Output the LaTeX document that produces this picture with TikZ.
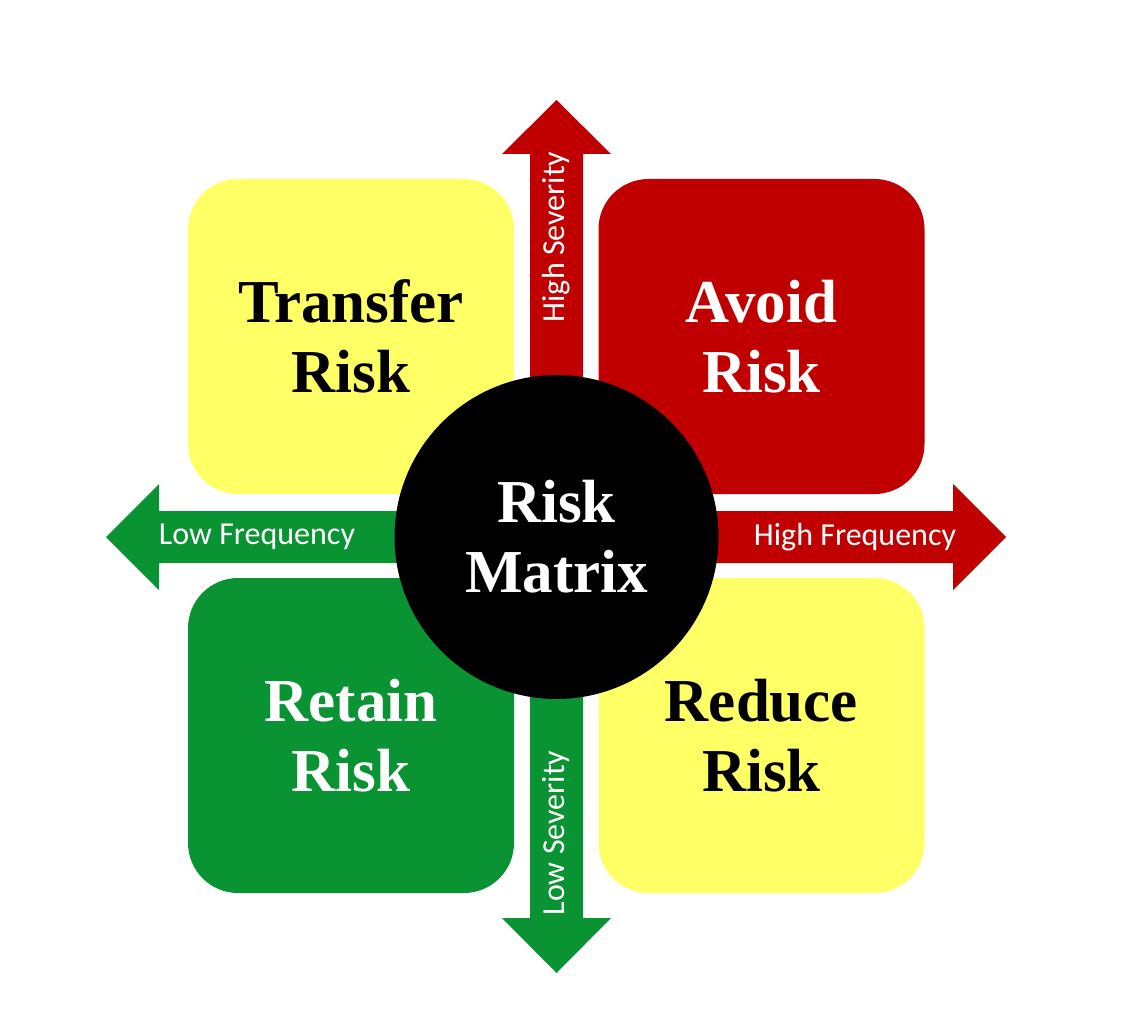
\documentclass[tikz,border=0pt]{standalone}
\usepackage{fontspec}
\setmainfont{Liberation Serif}
\newfontfamily\labfont{Carlito}
\definecolor{rYellow}{HTML}{FFFF66}
\definecolor{rRed}{HTML}{C00000}
\definecolor{rGreen}{HTML}{0A9332}
\begin{document}
\begin{tikzpicture}[x=1pt,y=-1pt,
  quad/.style={rectangle,rounded corners=50pt,minimum width=326pt,minimum height=315pt,inner sep=0pt,align=center,font=\fontsize{61}{70}\selectfont\bfseries},
  arlabel/.style={text=white,font=\labfont\fontsize{32}{34}\selectfont,inner sep=0pt}]
\useasboundingbox (0,0) rectangle (1130,1035);
\coordinate (c) at (556.5,537);
% arrows
\fill[rRed] (530,537) -- (530,154) -- (502,154) -- (556.5,100) -- (611,154) -- (583,154) -- (583,537) -- cycle;
\fill[rGreen] (530,537) -- (530,918) -- (502,918) -- (556.5,973) -- (611,918) -- (583,918) -- (583,537) -- cycle;
\fill[rGreen] (556,511) -- (159,511) -- (159,484) -- (106,537) -- (159,590) -- (159,563) -- (556,563) -- cycle;
\fill[rRed] (556,511) -- (953,511) -- (953,484) -- (1006,537) -- (953,590) -- (953,563) -- (556,563) -- cycle;
\node[arlabel,rotate=90] (hs) at (556.5,237) {High Severity};
\node[arlabel,rotate=90] (ls) at (556.5,833) {Low Severity};
\node[arlabel] (lf) at (257,537) {Low Frequency};
\node[arlabel] (hf) at (855,537) {High Frequency};
% quadrants
\node[quad,fill=rYellow,text=black] (transfer) at (351,336.5) {Transfer\\Risk};
\node[quad,fill=rRed,text=white] (avoid) at (761.5,336.5) {Avoid\\Risk};
\node[quad,fill=rGreen,text=white] (retain) at (351,735.5) {Retain\\Risk};
\node[quad,fill=rYellow,text=black] (reduce) at (761.5,735.5) {Reduce\\Risk};
% centre
\node[circle,fill=black,minimum size=324pt,inner sep=0pt,text=white,align=center,font=\fontsize{61}{70}\selectfont\bfseries] (matrix) at (c) {Risk\\Matrix};
\end{tikzpicture}
\end{document}
